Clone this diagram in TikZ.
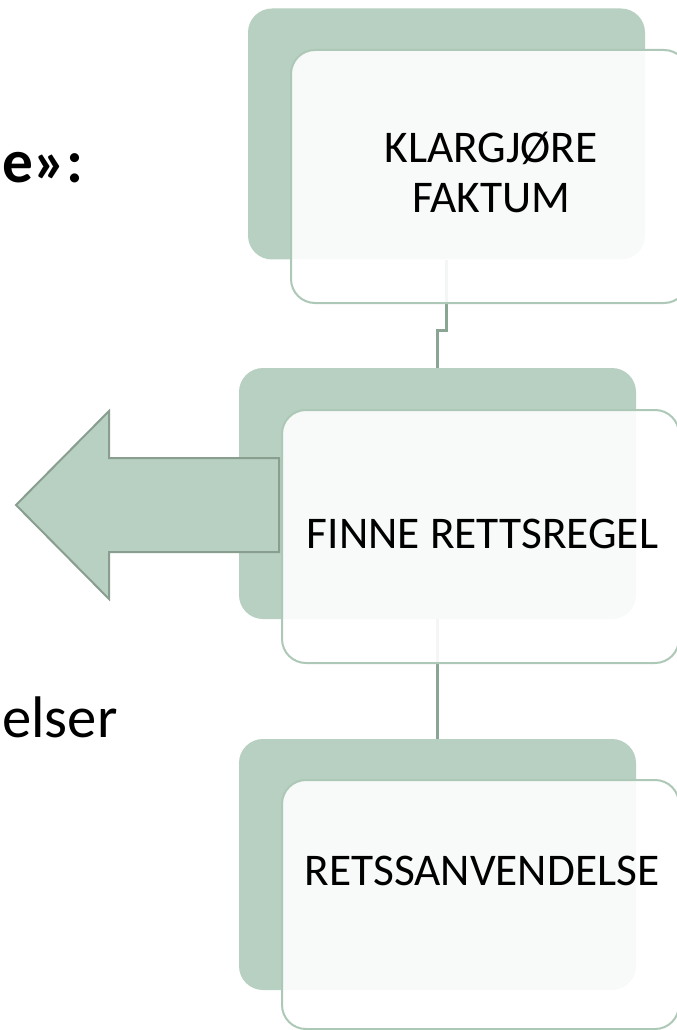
\documentclass[tikz,border=0pt]{standalone}
\usepackage{fontspec}
\setmainfont{Carlito}
\definecolor{bgreen}{HTML}{B7D0C1}
\definecolor{fborder}{HTML}{ADC8B7}
\definecolor{cline}{HTML}{8BA595}
\definecolor{astroke}{HTML}{8A9E90}
\begin{document}
\begin{tikzpicture}[x=0.75pt,y=-0.75pt,
  back/.style={fill=bgreen, draw=none, rounded corners=18pt, inner sep=0, minimum width=297.75pt, minimum height=188.25pt},
  front/.style={fill=white, fill opacity=0.9, draw=fborder, draw opacity=1, line width=1.5pt, rounded corners=18pt, inner sep=0, minimum width=297.75pt},
  conn/.style={draw=cline, line width=2pt},
  lbl/.style={font=\fontsize{34}{37.5}\selectfont, text=black, align=center, inner sep=0}]
\useasboundingbox (0,0) rectangle (676,1030);
% back boxes
\node[back] (b1) at (446.5,134) {};
\node[back] (b2) at (437.5,493.5) {};
\node[back] (b3) at (437.5,864.5) {};
% connectors
\draw[conn] (b1.south) -- ++(0,71) -| (b2.north);
\draw[conn] (b2.south) -- (b3.north);
% arrow
\draw[fill=bgreen, draw=astroke, line width=1.5pt]
  (16,505) -- (109,411) -- (109,458) -- (279,458) -- (279,552) -- (109,552) -- (109,599) -- cycle;
% front boxes
\node[front, minimum height=189.75pt] (f1) at (489.5,176.5) {};
\node[front, minimum height=189.75pt] (f2) at (480.5,536.5) {};
\node[front, minimum height=186.75pt] (f3) at (480.5,904.5) {};
% labels
\node[lbl, anchor=base] (t1) at (491,213) {KLARGJØRE\\FAKTUM};
\node[lbl, anchor=base] (t2) at (482.5,548) {FINNE RETTSREGEL};
\node[lbl, anchor=base] (t3) at (482,885) {RETSSANVENDELSE};
% left texts
\node[anchor=base west, inner sep=0, font=\bfseries\fontsize{46}{50}\selectfont] (h1) at (2,183) {e»:};
\node[anchor=base west, inner sep=0, font=\fontsize{44}{50}\selectfont] (h2) at (2,737) {elser};
\end{tikzpicture}
\end{document}
